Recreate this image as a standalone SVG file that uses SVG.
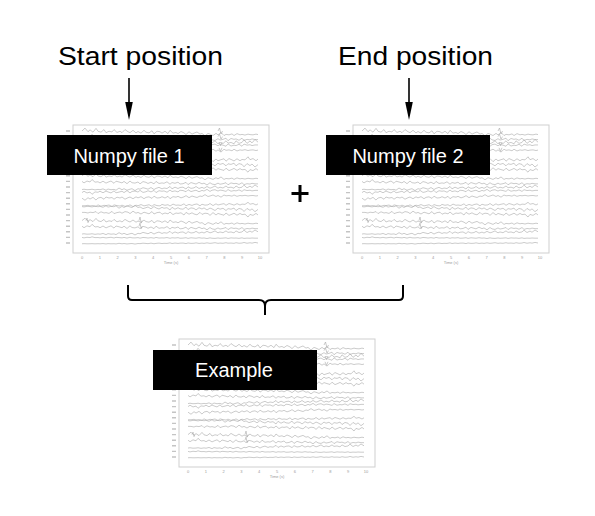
<svg xmlns="http://www.w3.org/2000/svg" xmlns:xlink="http://www.w3.org/1999/xlink" width="595" height="516" viewBox="0 0 595 516">
<style>
.bg{fill:#ffffff}
.frame{fill:#ffffff;stroke:#cfcfcf;stroke-width:1}
.tr{fill:none;stroke:#a8a8a8;stroke-width:0.6;vector-effect:non-scaling-stroke}
.ylab{stroke:#c4c4c4;stroke-width:1.4}
.tick{font-family:"Liberation Sans",Arial,sans-serif;font-size:4px;fill:#9a9a9a;text-anchor:middle}
.box{fill:#000000}
.blabel{font-family:"Liberation Sans",Arial,sans-serif;font-size:20px;fill:#ffffff;text-anchor:middle}
.title{font-family:"Liberation Sans",Arial,sans-serif;font-size:25px;fill:#000000}
.conn{fill:none;stroke:#000000;stroke-width:1.6}
.brace{fill:none;stroke:#000000;stroke-width:2}
.plus{stroke:#000000;stroke-width:3}
</style>
<defs>
<path id="p1" class="tr" d="M0,0 l3,-1.2 3,1.5 2,-0.8 3,1 3,-1.6 2,1.2 3,0.4 3,-1.1 2,1.3 3,-0.6 3,0.3 2,-1 3,1.2 3,-0.5 2,0.6 3,-1.3 3,0.9 2,0.4 3,-1 3,1.1 2,-0.6 3,0.7 3,-1.2 2,0.8 3,0.3 3,-0.9 2,1.3 3,-1.1 3,0.2 2,0.6 3,-0.8 3,1 2,-1.4 3,1.2 3,-0.3 2,0.5 3,-0.9 3,0.6 2,0.7 3,-1.2 3,1 2,-0.4 3,-0.5 3,0.9 2,-0.3 3,1.1 3,-1.1 2,0.3 3,0.6 3,-0.9 2,0.6 3,-1 3,1.3 2,-0.5 3,0.2 3,-0.4 2,0.7 3,-0.8 3,0.5 2,-0.2 3,0.3 3,-0.4 2,0.2 3,0.1 3,-0.3 2,0.2"/>
<path id="p2" class="tr" d="M0,0 l2,0.8 3,-1 3,0.5 2,-1.3 3,1.4 3,-0.2 2,0.6 3,-0.9 3,1 2,-0.5 3,-0.6 3,1.2 2,-1.1 3,0.4 3,0.5 2,-0.8 3,1.2 3,-1.4 2,0.9 3,0.2 3,-0.6 2,1 3,-1.2 3,0.4 2,0.6 3,-0.7 3,0.9 2,-1.3 3,1.1 3,-0.3 2,0.2 3,-0.8 3,1.3 2,-0.9 3,0.4 3,-0.6 2,1 3,-0.2 3,-0.7 2,1.2 3,-1.1 3,0.5 2,0.3 3,-0.9 3,0.8 2,-0.4 3,1 3,-1.2 2,0.7 3,0.3 3,-0.8 2,0.6 3,-0.3 3,-0.5 2,1.1 3,-1 3,0.4 2,-0.2 3,0.6 3,-0.9 2,1 3,-0.5 3,0.2 2,-0.4 3,0.3 3,0"/>
<g id="eeg">
<use xlink:href="#p1" href="#p1" transform="translate(9,6) scale(1,2.4)"/>
<use xlink:href="#p2" href="#p2" transform="translate(9,11.6) scale(1,2.3)"/>
<use xlink:href="#p1" href="#p1" transform="translate(185,17.2) scale(-1,2.3)"/>
<use xlink:href="#p2" href="#p2" transform="translate(9,22.8) scale(1,-2.2)"/>
<use xlink:href="#p1" href="#p1" transform="translate(9,28.4) scale(1,-2.2)"/>
<use xlink:href="#p2" href="#p2" transform="translate(185,34) scale(-1,2.2)"/>
<use xlink:href="#p1" href="#p1" transform="translate(185,39.6) scale(-1,-2)"/>
<use xlink:href="#p2" href="#p2" transform="translate(185,45.2) scale(-1,-2)"/>
<use xlink:href="#p1" href="#p1" transform="translate(9,50.8) scale(1,1.9)"/>
<use xlink:href="#p2" href="#p2" transform="translate(9,56.4) scale(1,1.9)"/>
<use xlink:href="#p1" href="#p1" transform="translate(185,62) scale(-1,1.7)"/>
<use xlink:href="#p2" href="#p2" transform="translate(9,67.6) scale(1,-1.7)"/>
<use xlink:href="#p1" href="#p1" transform="translate(9,73.2) scale(1,-1.7)"/>
<use xlink:href="#p2" href="#p2" transform="translate(185,78.8) scale(-1,1.5)"/>
<use xlink:href="#p1" href="#p1" transform="translate(185,84.4) scale(-1,-1.9)"/>
<use xlink:href="#p2" href="#p2" transform="translate(185,90) scale(-1,-2)"/>
<use xlink:href="#p1" href="#p1" transform="translate(9,95.6) scale(1,2)"/>
<use xlink:href="#p2" href="#p2" transform="translate(9,101.2) scale(1,1.9)"/>
<use xlink:href="#p1" href="#p1" transform="translate(185,106.8) scale(-1,1.5)"/>
<use xlink:href="#p2" href="#p2" transform="translate(9,112.4) scale(1,0.6)"/>
<use xlink:href="#p1" href="#p1" transform="translate(185,118) scale(-1,0.5)"/>
<path class="tr" d="M145,6 l1.5,-3 1.5,6 1.5,-3 M145,11.6 l1.5,-2.5 1.5,5 1.5,-2.5 M146,17.2 l1.5,3.5 1.5,-3.5 M146,22.8 l1.5,3.5 1.5,-3.5 M66,95.6 l1,-3.5 1.2,6 1,-2.5 M66,101.2 l1,-3 1.2,5.5 1,-2.5 M13,95.6 l1,-2.5 1,4.5 1,-2"/>
</g>
<g id="plot">
<rect class="frame" x="0" y="0" width="196" height="128"/>
<use xlink:href="#eeg" href="#eeg"/>
<path class="ylab" d="M-7,6h4M-7,11.6h4M-7,17.2h4M-7,22.8h4M-7,28.4h4M-7,34h4M-7,39.6h4M-7,45.2h4M-7,50.8h4M-7,56.4h4M-7,62h4M-7,67.6h4M-7,73.2h4M-7,78.8h4M-7,84.4h4M-7,90h4M-7,95.6h4M-7,101.2h4M-7,106.8h4M-7,112.4h4M-7,118h4"/>
<text class="tick" x="9" y="134">0</text>
<text class="tick" x="26.8" y="134">1</text>
<text class="tick" x="44.6" y="134">2</text>
<text class="tick" x="62.4" y="134">3</text>
<text class="tick" x="80.2" y="134">4</text>
<text class="tick" x="98" y="134">5</text>
<text class="tick" x="115.8" y="134">6</text>
<text class="tick" x="133.6" y="134">7</text>
<text class="tick" x="151.4" y="134">8</text>
<text class="tick" x="169.2" y="134">9</text>
<text class="tick" x="187" y="134">10</text>
<text class="tick" x="98" y="139">Time (s)</text>
</g>
</defs>
<rect class="bg" x="0" y="0" width="595" height="516"/>

<g id="connectors">
<line class="conn" x1="129" y1="78" x2="129" y2="104"/>
<polygon points="125.2,102 132.8,102 129,120" fill="#000000"/>
<line class="conn" x1="409" y1="78" x2="409" y2="104"/>
<polygon points="405.2,102 412.8,102 409,120" fill="#000000"/>
<path class="brace" d="M128,285 V296 Q128,300 132,300 H259 Q265,300 265,306 V315"/>
<path class="brace" d="M403,285 V296 Q403,300 399,300 H271 Q265,300 265,306"/>
</g>

<g id="start-label">
<text class="title" x="58" y="64.5" textLength="165" lengthAdjust="spacingAndGlyphs">Start position</text>
</g>
<g id="end-label">
<text class="title" x="338" y="64.5" textLength="155" lengthAdjust="spacingAndGlyphs">End position</text>
</g>

<g id="numpy-file-1">
<use xlink:href="#plot" href="#plot" transform="translate(73,125)"/>
<rect class="box" x="47" y="135" width="165" height="40"/>
<text class="blabel" x="129" y="163">Numpy file 1</text>
</g>

<g id="plus">
<line class="plus" x1="291.5" y1="193.5" x2="308.5" y2="193.5"/>
<line class="plus" x1="300" y1="185" x2="300" y2="202"/>
</g>

<g id="numpy-file-2">
<use xlink:href="#plot" href="#plot" transform="translate(353,125)"/>
<rect class="box" x="326" y="135" width="164" height="40"/>
<text class="blabel" x="408" y="163">Numpy file 2</text>
</g>

<g id="example">
<use xlink:href="#plot" href="#plot" transform="translate(179,339)"/>
<rect class="box" x="153" y="350" width="164" height="40"/>
<text class="blabel" x="234" y="377">Example</text>
</g>
</svg>
